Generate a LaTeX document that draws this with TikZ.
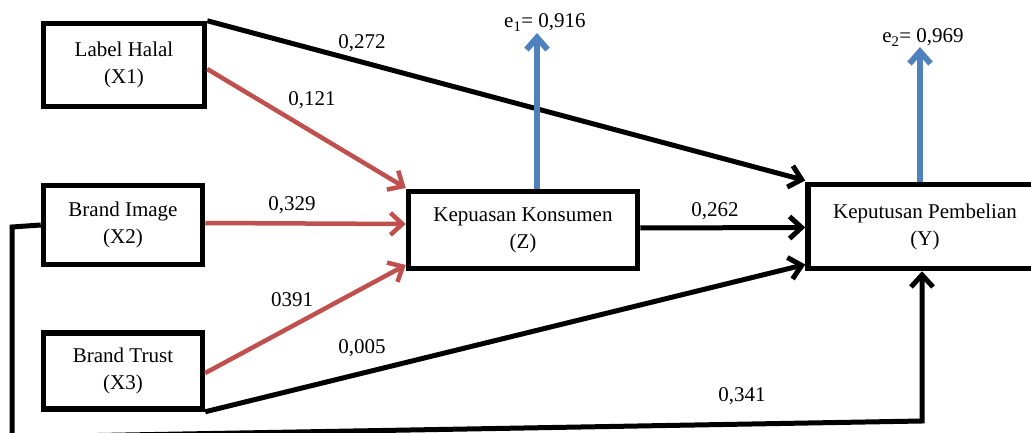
\documentclass[tikz,border=0pt]{standalone}
\usepackage{fontspec}
\setmainfont{Liberation Serif}
\usetikzlibrary{arrows.meta,calc}
\definecolor{redarr}{RGB}{192,80,77}
\definecolor{bluearr}{RGB}{79,129,189}
\begin{document}
\begin{tikzpicture}[x=1pt,y=-1pt,
  txt/.style={font=\fontsize{21}{27}\selectfont},
  box/.style={txt,draw,line width=5.5pt,align=center,inner sep=0pt,fill=white},
  lab/.style={txt,inner sep=0pt},
  barb/.style={-{Straight Barb[length=12pt,width=22pt]}},
  redline/.style={draw=redarr,line width=4.5pt,barb},
  blackline/.style={draw=black,line width=5pt,barb},
  blueline/.style={draw=bluearr,line width=6pt,-{Straight Barb[length=12pt,width=21pt]}}
]
\useasboundingbox (0,0) rectangle (1031,433);
\clip (0,0) rectangle (1031,433);

% nodes
\node[box,minimum width=161pt,minimum height=83pt] (x1) at (124,65) {Label Halal\\(X1)};
\node[box,minimum width=159pt,minimum height=79pt] (x2) at (123,225) {Brand Image\\(X2)};
\node[box,minimum width=159pt,minimum height=76pt] (x3) at (123,371) {Brand Trust\\(X3)};
\node[box,minimum width=229pt,minimum height=77pt] (z) at (523,230) {Kepuasan Konsumen\\(Z)};
\node[box,minimum width=234pt,minimum height=84pt] (y) at (925,226.5) {Keputusan Pembelian\\(Y)};

% free ends
\coordinate (e1) at (537,33);
\coordinate (e2) at (920,47);
\coordinate (c1) at (12,227);
\coordinate (c2) at (12,437);
\coordinate (c3) at (922,421);

% red arrows
\draw[redline] ([yshift=-4pt]x1.east) -- ([yshift=42pt]z.west);
\draw[redline] ([yshift=2pt]x2.east) -- ([yshift=6pt]z.west);
\draw[redline] ([yshift=-2pt]x3.east) -- ([yshift=-35pt]z.west);

% black arrows
\draw[blackline] (x1.north east) -- ([yshift=46pt]y.west);
\draw[blackline] ([yshift=2pt]z.east) -- ([yshift=-1pt]y.west);
\draw[blackline] (x3.south east) -- ([yshift=-38pt]y.west);
\draw[blackline] (x2.west) -- (c1) -- (c2) -- (c3) -- ([xshift=-3pt]y.south);

% blue arrows
\draw[blueline] ([xshift=14pt]z.north) -- (e1);
\draw[blueline] ([xshift=-5pt]y.north) -- (e2);

% labels
\node[lab,anchor=base] (le1) at (545,28) {e\textsubscript{1}= 0,916};
\node[lab,anchor=base] (le2) at (923,43) {e\textsubscript{2}= 0,969};
\node[lab] (l1) at (362,43) {0,272};
\node[lab] (l2) at (312,100) {0,121};
\node[lab] (l3) at (292,205) {0,329};
\node[lab] (l4) at (292,300) {0391};
\node[lab] (l5) at (362,348) {0,005};
\node[lab] (l6) at (715,211) {0,262};
\node[lab] (l7) at (742,396) {0,341};
\end{tikzpicture}
\end{document}
